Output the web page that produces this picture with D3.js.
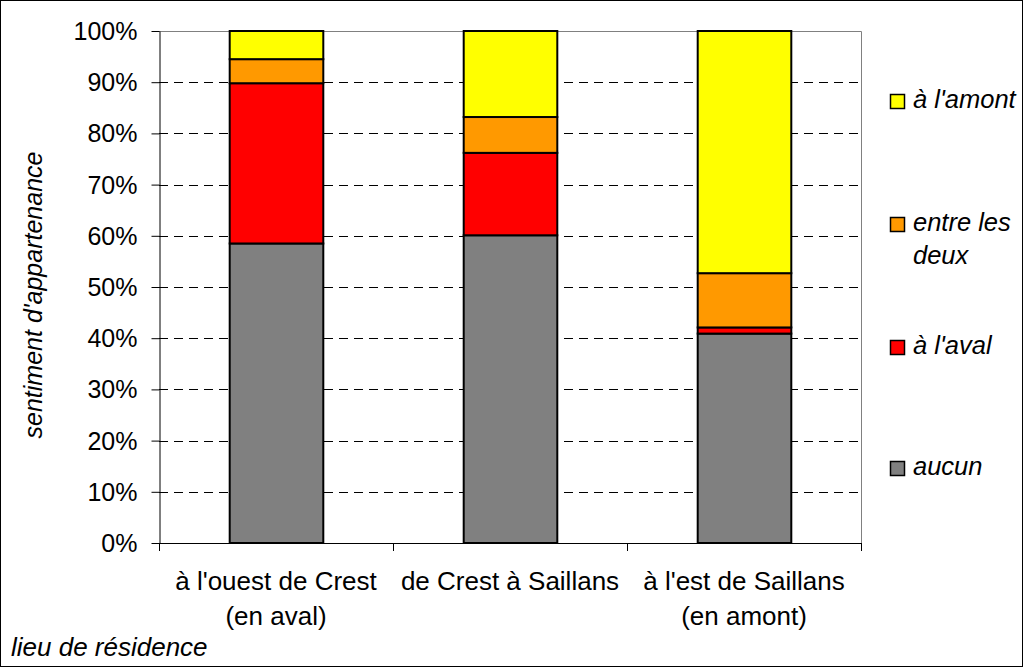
<!DOCTYPE html>
<html><head><meta charset="utf-8">
<script src="https://cdn.jsdelivr.net/npm/d3@7"></script>
<style>body{margin:0;background:#fff}svg{display:block;font-family:"Liberation Sans",Arial,sans-serif}</style>
</head><body><svg id="c" width="1024" height="668"></svg>
<script>
const categories = [["à l'ouest de Crest","(en aval)"],["de Crest à Saillans"],["à l'est de Saillans","(en amont)"]];
const seriesNames = ["aucun","à l'aval","entre les deux","à l'amont"];
const seriesColors = ["#808080","#ff0000","#ff9900","#ffff00"];
const aucun = [58.5, 60.1, 40.9];
const aval = [31.3, 16.1, 1.2];
const entre = [4.7, 7.0, 10.6];
const amont = [5.5, 16.8, 47.3];
const yTicks = [0,10,20,30,40,50,60,70,80,90,100];
const legendLabels = [["à l'amont"],["entre les","deux"],["à l'aval"],["aucun"]];

const svg = d3.select("#c");
const L=159, R=861, T=31, B=543;
svg.append("rect").attr("x",0.5).attr("y",0.5).attr("width",1022).attr("height",666).attr("fill","none").attr("stroke","#000");

const x = d3.scaleBand().domain(d3.range(categories.length)).range([L,R]).paddingInner(0.6).paddingOuter(0.3);
const y = d3.scaleLinear().domain([0,100]).range([B,T]);

// grid
svg.append("g").selectAll("line").data(yTicks.filter(t=>t>0&&t<100)).join("line")
  .attr("x1",L).attr("x2",R).attr("y1",d=>Math.round(y(d))+0.5).attr("y2",d=>Math.round(y(d))+0.5)
  .attr("stroke","#000").attr("stroke-dasharray","9,6");
// top/right border
svg.append("path").attr("d",`M${L},${T+0.5}H${R+0.5}V${B}`).attr("fill","none").attr("stroke","#808080");

const stackData = categories.map((c,i)=>({i, v:[aucun[i],aval[i],entre[i],amont[i]]}));
const stack = d3.stack().keys([0,1,2,3]).value((d,k)=>d.v[k]);
const layers = stack(stackData);
layers.forEach((layer,k)=>{
  svg.append("g").selectAll("rect").data(layer).join("rect")
    .attr("x",d=>x(d.data.i)+0.5).attr("width",x.bandwidth())
    .attr("y",d=>y(d[1])).attr("height",d=>y(d[0])-y(d[1]))
    .attr("fill",seriesColors[k]).attr("stroke","#000").attr("stroke-width",2);
});

// y axis
const ya = svg.append("g").attr("transform",`translate(${L+0.5},0)`)
  .call(d3.axisLeft(y).tickValues(yTicks).tickFormat(d=>d+"%").tickSize(8).tickSizeOuter(0));
ya.select(".domain").attr("stroke","#000");
ya.selectAll("line").attr("stroke","#000");
ya.selectAll("text").attr("font-size",25).attr("fill","#000").attr("x",-22).attr("dy","0.34em").attr("font-family","Liberation Sans, Arial");
// x axis
const bounds = d3.range(categories.length+1).map(i=>L+(R-L)*i/categories.length);
svg.append("line").attr("x1",L).attr("x2",R+1).attr("y1",B+0.5).attr("y2",B+0.5).attr("stroke","#000");
svg.append("g").selectAll("line").data(bounds).join("line")
  .attr("x1",d=>Math.round(d)+0.5).attr("x2",d=>Math.round(d)+0.5).attr("y1",B).attr("y2",B+8).attr("stroke","#000");
const xl = svg.append("g").selectAll("text").data(categories).join("text")
  .attr("text-anchor","middle").attr("font-size",26).attr("fill","#000");
xl.each(function(c,i){
  const t=d3.select(this);
  c.forEach((s,j)=>t.append("tspan").attr("x",x(i)+x.bandwidth()/2).attr("y",590+j*35).text(s));
});
// titles
svg.append("text").attr("transform","translate(42,295) rotate(-90)").attr("text-anchor","middle")
  .attr("font-size",25).attr("font-style","italic").text("sentiment d'appartenance");
svg.append("text").attr("x",11).attr("y",656).attr("font-size",26).attr("font-style","italic").text("lieu de résidence");

// legend
const legY = [108,231,354,475];
const lg = svg.append("g");
legendLabels.forEach((lab,k)=>{
  const si = 3-k;
  lg.append("rect").attr("x",890.5).attr("y",legY[k]-13.5).attr("width",14).attr("height",14)
    .attr("fill",seriesColors[si]).attr("stroke","#000").attr("stroke-width",1.5);
  const t = lg.append("text").attr("font-size",25.5).attr("font-style","italic");
  lab.forEach((s,j)=>t.append("tspan").attr("x",913).attr("y",legY[k]+j*33).text(s));
});
</script></body></html>
